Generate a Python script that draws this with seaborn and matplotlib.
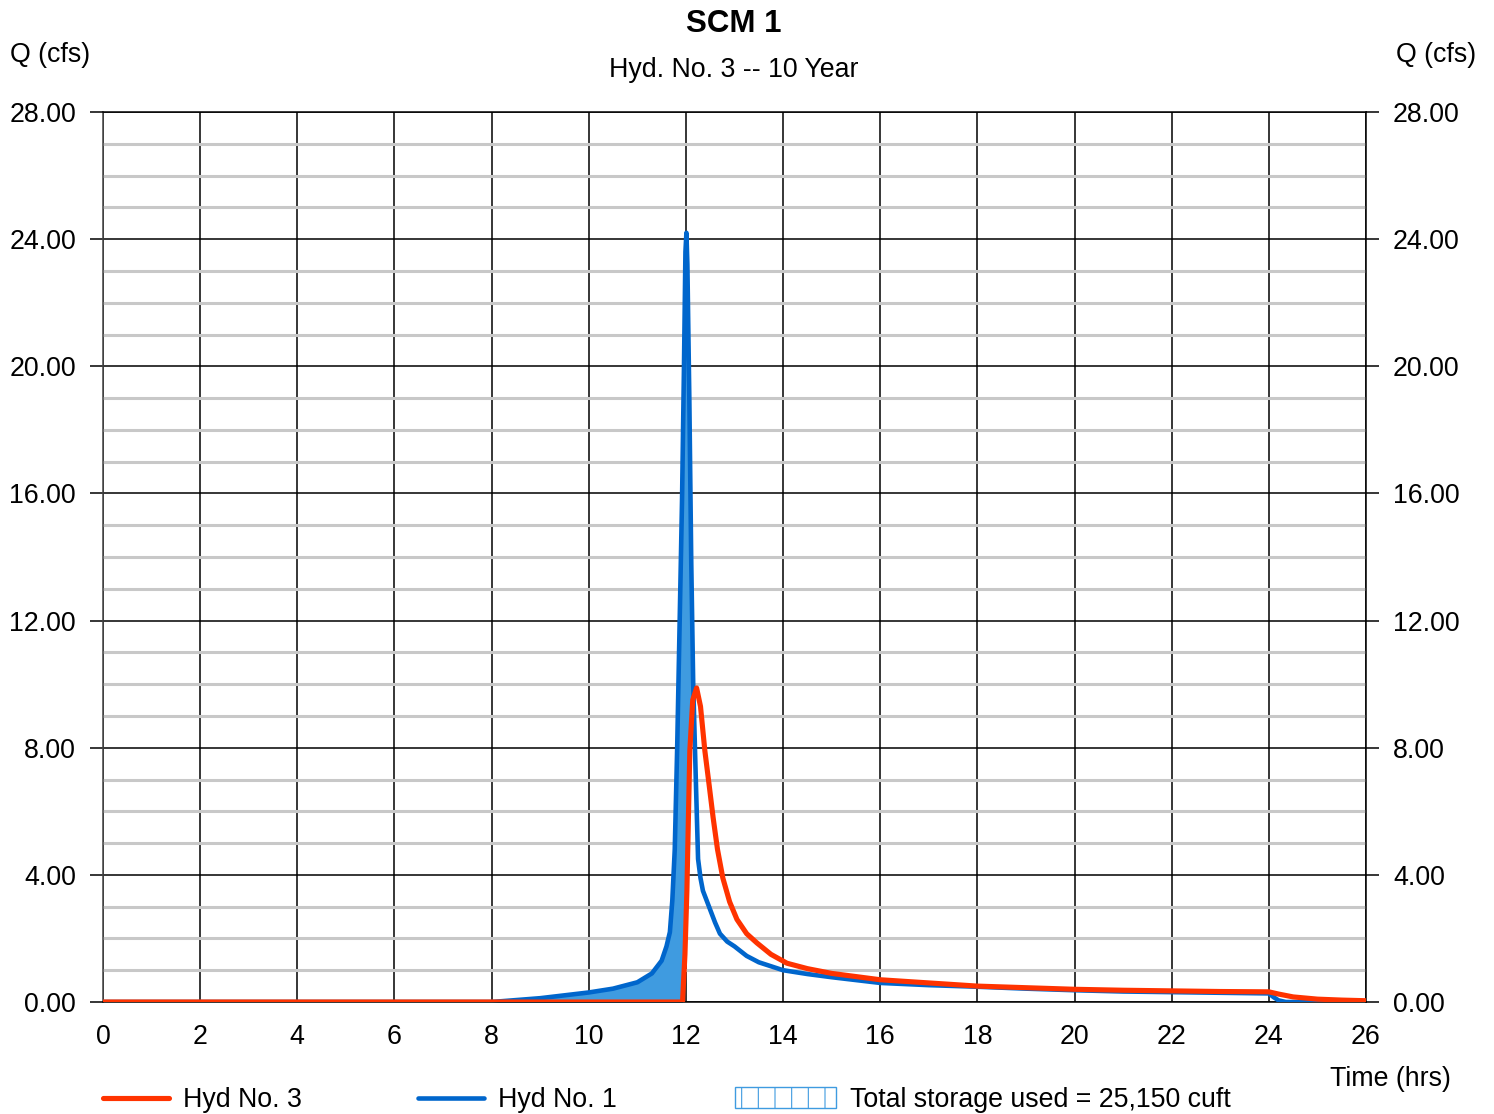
import numpy as np
import pandas as pd
import matplotlib
matplotlib.use("Agg")
import matplotlib.pyplot as plt
import seaborn as sns
from matplotlib.lines import Line2D
from matplotlib.patches import Patch
from matplotlib.ticker import MultipleLocator, FormatStrFormatter

# ---- data ----
t_hyd1 = [0, 8, 9, 10, 10.5, 11, 11.3, 11.5, 11.6, 11.67, 11.72, 11.77, 11.82, 11.86,
          11.92, 11.96, 11.99, 12.01, 12.03, 12.07, 12.11, 12.15, 12.2, 12.25, 12.3, 12.35,
          12.5, 12.6, 12.7, 12.85, 13.0, 13.25, 13.5, 14.0, 14.5, 15.0, 16.0, 17.0, 18.0,
          19.0, 20.0, 21.0, 22.0, 23.0, 24.0, 24.1, 24.2, 24.35, 25.0, 26.0]
q_hyd1 = [0, 0, 0.12, 0.3, 0.42, 0.62, 0.9, 1.3, 1.75, 2.2, 3.2, 4.8, 8.0, 11.1,
          15.8, 20.0, 23.6, 24.2, 23.2, 19.0, 13.8, 10.0, 7.2, 4.5, 3.9, 3.5,
          2.9, 2.5, 2.15, 1.9, 1.75, 1.45, 1.25, 1.0, 0.88, 0.78, 0.6, 0.53, 0.48,
          0.42, 0.37, 0.33, 0.31, 0.29, 0.27, 0.15, 0.05, 0.0, 0.0, 0.0]

t_hyd3 = [0, 11.93, 11.98, 12.02, 12.08, 12.14, 12.22, 12.3, 12.39, 12.48, 12.56, 12.65,
          12.76, 12.9, 13.05, 13.25, 13.46, 13.75, 14.08, 14.5, 15.0, 15.5, 16.0, 17.0,
          18.0, 19.0, 20.0, 21.0, 22.0, 23.0, 24.0, 24.2, 24.5, 25.0, 25.5, 26.0]
q_hyd3 = [0, 0, 1.5, 3.5, 7.9, 9.5, 9.88, 9.3, 7.9, 6.8, 5.8, 4.8,
          3.9, 3.15, 2.6, 2.15, 1.86, 1.5, 1.22, 1.05, 0.9, 0.8, 0.7, 0.6,
          0.5, 0.45, 0.4, 0.37, 0.35, 0.33, 0.32, 0.25, 0.16, 0.09, 0.06, 0.04]

x_ticks = [0, 2, 4, 6, 8, 10, 12, 14, 16, 18, 20, 22, 24, 26]
y_ticks = [0, 4, 8, 12, 16, 20, 24, 28]

title = "SCM 1"
subtitle = "Hyd. No. 3 -- 10 Year"
legend_labels = ["Hyd No. 3", "Hyd No. 1", "Total storage used = 25,150 cuft"]

RED = "#FF3300"
BLUE = "#0066CC"
FILL = "#3F9BE0"
FS = 19.3

sns.set_style("white")
plt.rcParams["font.family"] = ["Liberation Sans", "DejaVu Sans"]
plt.rcParams["text.color"] = "black"
plt.rcParams["xtick.color"] = "black"
plt.rcParams["ytick.color"] = "black"
plt.rcParams["xtick.labelcolor"] = "black"
plt.rcParams["ytick.labelcolor"] = "black"

fig = plt.figure(figsize=(14.94, 11.14), dpi=100)
ax = fig.add_axes([103 / 1494, 1 - 1002 / 1114, (1366 - 103) / 1494, (1002 - 112) / 1114])

df1 = pd.DataFrame({"t": t_hyd1, "q": q_hyd1})
df3 = pd.DataFrame({"t": t_hyd3, "q": q_hyd3})

# storage fill between inflow and outflow
tt = np.linspace(0, 26, 5201)
b = np.interp(tt, t_hyd1, q_hyd1)
r = np.interp(tt, t_hyd3, q_hyd3)
ax.fill_between(tt, r, b, where=(b > r) & (tt < 13), interpolate=True,
                color=FILL, linewidth=0, zorder=2)

sns.lineplot(data=df1, x="t", y="q", ax=ax, color=BLUE, linewidth=3.3,
             zorder=3, estimator=None, sort=False)
sns.lineplot(data=df3, x="t", y="q", ax=ax, color=RED, linewidth=3.7,
             zorder=4, estimator=None, sort=False)

ax.set_xlim(0, 26)
ax.set_ylim(0, 28)
ax.set_xticks(x_ticks)
ax.set_yticks(y_ticks)
ax.yaxis.set_minor_locator(MultipleLocator(1))
ax.yaxis.set_major_formatter(FormatStrFormatter("%.2f"))
ax.set_xlabel("")
ax.set_ylabel("")

ax.grid(True, which="major", axis="both", color="black", linewidth=1.1)
ax.grid(True, which="minor", axis="y", color="#C8C8C8", linewidth=2.2)
ax.set_axisbelow(True)

ax.tick_params(axis="x", which="both", length=0, pad=15.5, labelsize=FS,
               labelcolor="black")
ax.tick_params(axis="y", which="major", length=9.5, width=1.1, direction="out",
               left=True, right=True, labelleft=True, labelright=True,
               pad=10, labelsize=FS, color="black", labelcolor="black")
ax.tick_params(axis="y", which="minor", length=0)
for s in ax.spines.values():
    s.set_visible(True)
    s.set_color("black")
    s.set_linewidth(1.1)
ax.spines["left"].set_color("#444444")

fig.text(734 / 1494, 1 - 24 / 1114, title, ha="center", va="center",
         fontsize=22.5, fontweight="bold", color="black")
fig.text(734 / 1494, 1 - 70 / 1114, subtitle, ha="center", va="center",
         fontsize=FS, color="black")
fig.text(10 / 1494, 1 - 55 / 1114, "Q (cfs)", ha="left", va="center",
         fontsize=FS, color="black")
fig.text(1476 / 1494, 1 - 55 / 1114, "Q (cfs)", ha="right", va="center",
         fontsize=FS, color="black")
fig.text(1390 / 1494, 1 - 1079 / 1114, "Time (hrs)", ha="center", va="center",
         fontsize=FS, color="black")

# legend entries
ly = 1 - 1100 / 1114
common = dict(loc="center left", frameon=False, borderpad=0, borderaxespad=0,
              fontsize=FS, handletextpad=0.55, labelcolor="black")
leg1 = fig.legend([Line2D([], [], color=RED, linewidth=3.7)], [legend_labels[0]],
                  bbox_to_anchor=(103 / 1494, ly), handlelength=2.45, **common)
leg2 = fig.legend([Line2D([], [], color=BLUE, linewidth=3.3)], [legend_labels[1]],
                  bbox_to_anchor=(418 / 1494, ly), handlelength=2.45, **common)
plt.rcParams["hatch.linewidth"] = 0.8
leg3 = fig.legend([Patch(facecolor="white", edgecolor=FILL, hatch="|", linewidth=1.0)],
                  [legend_labels[2]], bbox_to_anchor=(735 / 1494, ly),
                  handlelength=3.75, handleheight=0.85, **common)

fig.savefig("out.png", dpi=100)
